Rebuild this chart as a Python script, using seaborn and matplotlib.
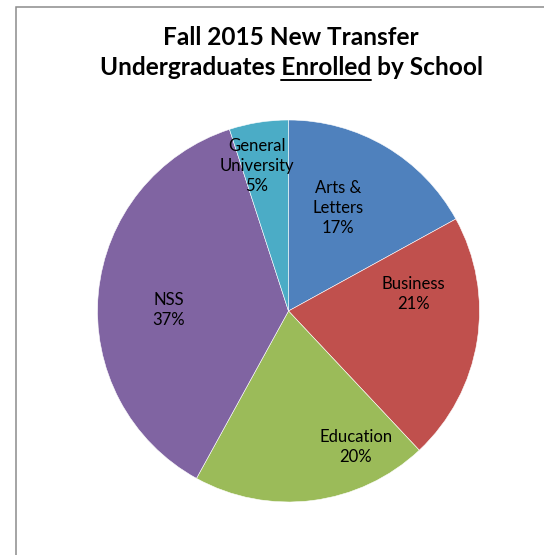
import matplotlib
matplotlib.use("Agg")
import matplotlib.pyplot as plt
from matplotlib.patches import Rectangle
from matplotlib.lines import Line2D
import seaborn as sns

# Fall 2015 new transfer undergraduates by school (percent)
schools = ["Arts &\nLetters", "Business", "Education", "NSS", "General\nUniversity"]
shares = [17, 21, 20, 37, 5]
slice_colors = ["#4F81BD", "#C0504D", "#9BBB59", "#8064A2", "#4BACC6"]

# label anchor points inside each slice (pie radius = 1)
label_xy = [(0.259, 0.539), (0.652, 0.089), (0.353, -0.712), (-0.626, 0.005), (-0.165, 0.759)]

sns.set_theme(style="white")
plt.rcParams["font.family"] = ["Lato", "DejaVu Sans"]

W, H, DPI = 544, 555, 100
TITLE_SIZE = 17.6
fig = plt.figure(figsize=(W / DPI, H / DPI), dpi=DPI)
fig.patch.set_facecolor("white")

# chart frame
fig.patches.append(Rectangle((15.5 / W, -0.2), 1.2, 1.2 - 6.5 / H, transform=fig.transFigure,
                             fill=False, edgecolor="#8c8c8c", linewidth=1.1, zorder=0))

cx, cy, r = 288.5, 311, 191
ax = fig.add_axes([(cx - r) / W, (H - cy - r) / H, 2 * r / W, 2 * r / H])
palette = sns.color_palette(slice_colors)
ax.pie(shares, colors=palette, startangle=90, counterclock=False, radius=1,
       wedgeprops=dict(edgecolor="white", linewidth=0.4))
ax.set_xlim(-1, 1)
ax.set_ylim(-1, 1)
ax.set_aspect("auto")
ax.axis("off")

for name, val, (x, y) in zip(schools, shares, label_xy):
    ax.text(x, y, f"{name}\n{val}%", ha="center", va="center", fontsize=12,
            color="black", linespacing=1.3)

# two-line title with "Enrolled" underlined
title_kw = dict(fontsize=TITLE_SIZE, fontweight="bold", color="black", ha="center", va="baseline")
tx = 291 / W
fig.text(tx, 1 - 45 / H, "Fall 2015 New Transfer", **title_kw)
line2 = fig.text(tx, 1 - 75 / H, "Undergraduates Enrolled by School", **title_kw)

renderer = fig.canvas.get_renderer()
def text_width(s):
    t = fig.text(0, 0, s, fontsize=TITLE_SIZE, fontweight="bold")
    w = t.get_window_extent(renderer).width
    t.remove()
    return w

bb = line2.get_window_extent(renderer)
w_to_end = text_width("Undergraduates Enrolled")
w_word = text_width("Enrolled")
x_end = bb.x0 + w_to_end
x_start = x_end - w_word
y_line = (H - 75) - 4.5
fig.lines.append(Line2D([x_start / W, x_end / W], [y_line / H, y_line / H],
                        transform=fig.transFigure, color="black", linewidth=1.4))

fig.savefig("out.png", dpi=DPI)
